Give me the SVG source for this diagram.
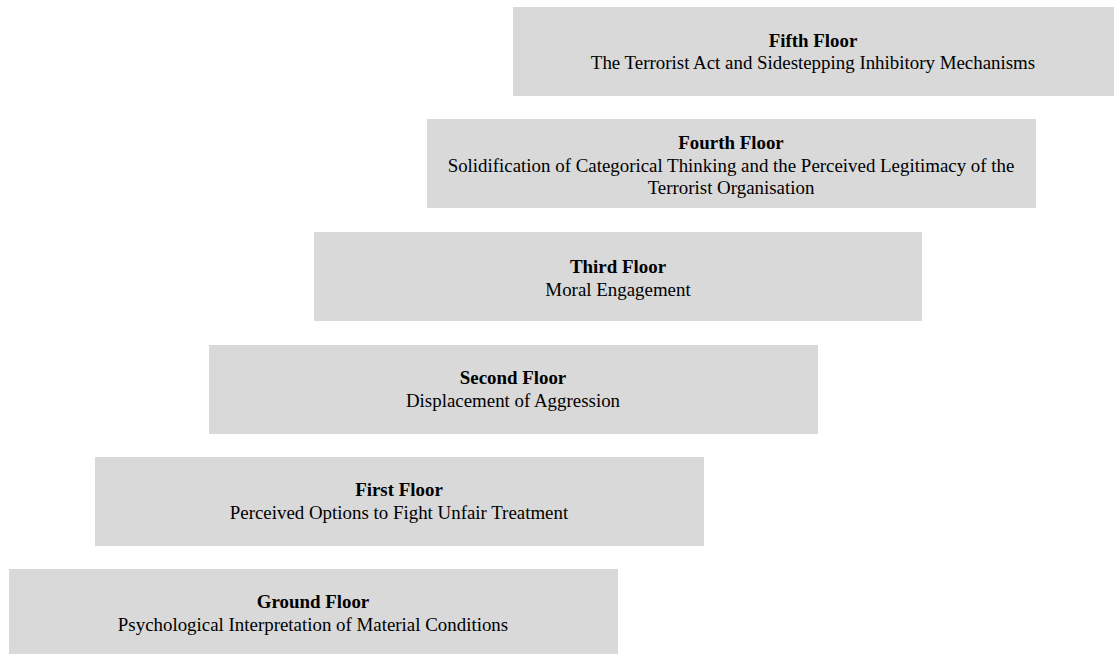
<svg xmlns="http://www.w3.org/2000/svg" width="1114" height="654" viewBox="0 0 1114 654">
<style>
.box{fill:#d9d9d9;}
text{font-family:"Liberation Serif","Times New Roman",serif;font-size:18.9px;fill:#000;text-anchor:middle;}
.t{font-weight:bold;}
</style>
<rect width="1114" height="654" fill="#fff"/>
<g id="fifth"><rect class="box" x="513" y="7" width="601" height="89"/><text class="t" x="813" y="47">Fifth Floor</text><text x="813" y="69">The Terrorist Act and Sidestepping Inhibitory Mechanisms</text></g>
<g id="fourth"><rect class="box" x="427" y="119" width="609" height="89"/><text class="t" x="731" y="149">Fourth Floor</text><text x="731" y="172">Solidification of Categorical Thinking and the Perceived Legitimacy of the</text><text x="731" y="194">Terrorist Organisation</text></g>
<g id="third"><rect class="box" x="314" y="232" width="608" height="89"/><text class="t" x="618" y="273">Third Floor</text><text x="618" y="296">Moral Engagement</text></g>
<g id="second"><rect class="box" x="209" y="345" width="609" height="89"/><text class="t" x="513" y="384">Second Floor</text><text x="513" y="407">Displacement of Aggression</text></g>
<g id="first"><rect class="box" x="95" y="457" width="609" height="89"/><text class="t" x="399" y="496">First Floor</text><text x="399" y="519">Perceived Options to Fight Unfair Treatment</text></g>
<g id="ground"><rect class="box" x="9" y="569" width="609" height="85"/><text class="t" x="313" y="608">Ground Floor</text><text x="313" y="631">Psychological Interpretation of Material Conditions</text></g>
<g id="connectors"></g>
</svg>
